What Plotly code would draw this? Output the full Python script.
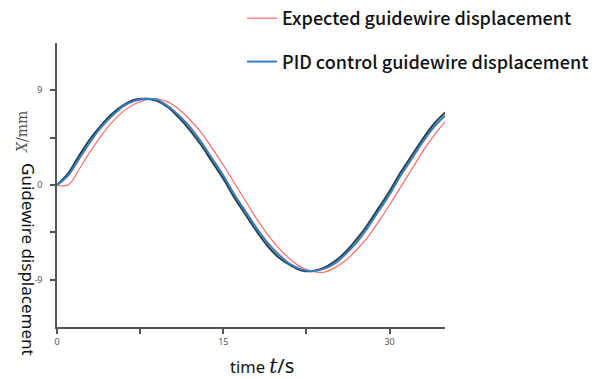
import plotly.graph_objects as go

# time samples (s)
time_s = [0, 1, 2, 3, 4, 5, 6, 7, 8, 9, 10, 11, 12, 13, 14, 15, 16, 17, 18,
          19, 20, 21, 22, 23, 24, 25, 26, 27, 28, 29, 30, 31, 32, 33, 34, 35]

# expected guidewire displacement (mm)
expected_mm = [0, 0, 1.5, 3.2, 4.7, 6.0, 7.0, 7.7, 8.1, 8.2, 7.9, 7.2, 6.2, 5.0,
               3.5, 1.9, 0.2, -1.5, -3.2, -4.7, -6.0, -7.0, -7.8, -8.2, -8.3,
               -7.9, -7.2, -6.2, -5.0, -3.5, -1.9, -0.2, 1.5, 3.2, 4.7, 6.0]

# PID control guidewire displacement (mm)
pid_mm = [0, 0.9, 2.5, 4.1, 5.5, 6.6, 7.5, 8.0, 8.2, 8.1, 7.5, 6.6, 5.5, 4.1,
          2.5, 0.9, -0.9, -2.5, -4.1, -5.5, -6.6, -7.5, -8.0, -8.2, -8.0, -7.5,
          -6.6, -5.5, -4.1, -2.5, -0.9, 0.9, 2.5, 4.1, 5.5, 6.6]

# dark companion trace drawn under the blue one
pid_dark_mm = [0, 1.1, 2.8, 4.4, 5.7, 6.8, 7.6, 8.1, 8.2, 8.0, 7.4, 6.4, 5.2, 3.8,
               2.2, 0.6, -1.2, -2.8, -4.4, -5.8, -6.9, -7.6, -8.1, -8.2, -7.9,
               -7.3, -6.4, -5.2, -3.8, -2.2, -0.6, 1.2, 2.8, 4.4, 5.8, 6.9]

x_tickvals = [0, 7.5, 15, 22.5, 30]
x_ticktext = ["0", "", "15", "", "30"]
y_tickvals = [-9, -4.5, 0, 4.5, 9]
y_ticktext = ["-9", "", "0", "", "9"]

W, H = 598, 379
ML, MR, MT, MB = 57, 153, 43, 52
PW, PH = W - ML - MR, H - MT - MB


def px(xp):
    return (xp - ML) / PW


def py(yp):
    return (H - MB - yp) / PH


fig = go.Figure()

fig.add_trace(go.Scatter(
    x=time_s, y=expected_mm, mode="lines", name="Expected guidewire displacement",
    line=dict(color="#ff6a6a", width=1.2, shape="spline"),
    legendgroup="a"))
fig.add_trace(go.Scatter(
    x=time_s, y=pid_dark_mm, mode="lines", showlegend=False,
    line=dict(color="#3a3a3a", width=2, shape="spline"),
    legendgroup="b"))
fig.add_trace(go.Scatter(
    x=time_s, y=pid_mm, mode="lines", name="PID control guidewire displacement",
    line=dict(color="#2f7fc8", width=2, shape="spline"),
    legendgroup="b"))

fig.update_layout(
    width=W, height=H,
    margin=dict(l=ML, r=MR, t=MT, b=MB, autoexpand=False),
    paper_bgcolor="white", plot_bgcolor="white",
    font=dict(family="Noto Sans", color="#222"),
    showlegend=True,
    legend=dict(
        xref="container", yref="container",
        x=242 / W, y=1.0, xanchor="left", yanchor="top",
        font=dict(family="Noto Sans CJK SC", size=18, color="#111", weight=500),
        tracegroupgap=17, bgcolor="rgba(0,0,0,0)",
    ),
    xaxis=dict(
        range=[0, 35], showgrid=False, zeroline=False,
        showline=True, linecolor="#555", linewidth=1.5,
        ticks="outside", ticklen=5, tickcolor="#555", tickwidth=1.5,
        tickvals=x_tickvals, ticktext=x_ticktext,
        tickfont=dict(size=9, color="#555"),
    ),
    yaxis=dict(
        range=[-13.5, 13.5], showgrid=False, zeroline=False,
        showline=True, linecolor="#555", linewidth=1.5,
        ticks="outside", ticklen=5, tickcolor="#555", tickwidth=1.5,
        tickvals=y_tickvals, ticktext=y_ticktext,
        tickfont=dict(size=9, color="#555"),
        ticklabelstandoff=6,
    ),
    annotations=[
        dict(text="time <span style='font-family:DejaVu Serif;font-style:italic;font-size:20px'>t</span>"
                  "<span style='font-size:20px'>/s</span>",
             xref="paper", yref="paper", x=px(262), y=py(365),
             xanchor="center", yanchor="middle", showarrow=False,
             font=dict(family="Noto Sans", size=16.5, color="#111")),
        dict(text="<i>X</i>/mm",
             xref="paper", yref="paper", x=px(22), y=py(132),
             xanchor="center", yanchor="middle", showarrow=False, textangle=-90,
             font=dict(family="DejaVu Serif", size=14, color="#555")),
        dict(text="Guidewire displacement",
             xref="paper", yref="paper", x=px(29), y=py(259),
             xanchor="center", yanchor="middle", showarrow=False, textangle=90,
             font=dict(family="Noto Sans", size=17, color="#111")),
    ],
)

fig.write_html("out.html")
